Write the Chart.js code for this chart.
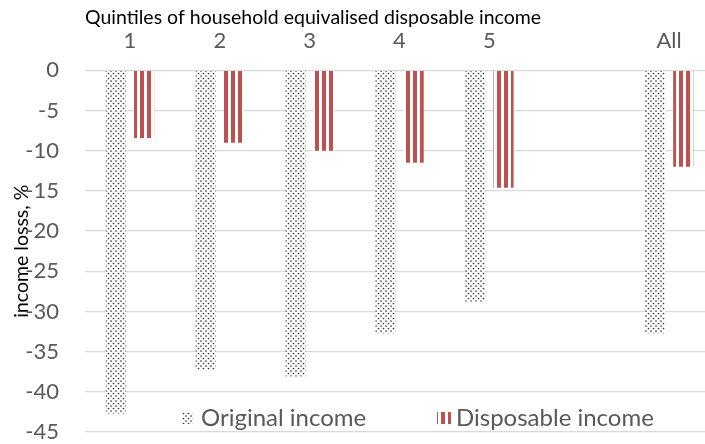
<!DOCTYPE html>
<html>
<head>
<meta charset="utf-8">
<script src="https://cdn.jsdelivr.net/npm/chart.js@4"></script>
<style>
  html, body { margin: 0; padding: 0; background: #fff; overflow: hidden; }
  #wrap { width: 705px; height: 444px; overflow: hidden; }
  canvas { display: block; }
</style>
</head>
<body>
<div id="wrap"><canvas id="grafico" width="714" height="444"></canvas></div>
<script>
// ---------------- DADOS ----------------
const categorias = ["1", "2", "3", "4", "5", "", "All"];
const rendaOriginal = [-42.7, -37.3, -38.1, -32.7, -28.8, null, -32.7];
const rendaDisponivel = [-8.4, -9.0, -10.0, -11.5, -14.6, null, -12.0];
const yMin = -45;
const yMax = 0;
const yPasso = 5;

const FONTE = "Lato, 'Open Sans', sans-serif";
const VERMELHO = "#c0504d";

// ---------------- PADROES ----------------
function padraoPontos(ctx) {
    const c = document.createElement("canvas");
    c.width = 5; c.height = 5;
    const g = c.getContext("2d");
    g.fillStyle = "#fff";
    g.fillRect(0, 0, 5, 5);
    g.fillStyle = "#3a3a3a";
    g.beginPath(); g.arc(1, 1, 0.85, 0, Math.PI * 2); g.fill();
    g.beginPath(); g.arc(3.5, 3.5, 0.85, 0, Math.PI * 2); g.fill();
    return ctx.createPattern(c, "repeat");
}

function padraoListras(ctx) {
    const c = document.createElement("canvas");
    c.width = 7; c.height = 4;
    const g = c.getContext("2d");
    g.fillStyle = "#fff";
    g.fillRect(0, 0, 7, 4);
    g.fillStyle = VERMELHO;
    g.fillRect(0, 0, 4, 4);
    return ctx.createPattern(c, "repeat");
}

const canvas = document.getElementById("grafico");
const ctx = canvas.getContext("2d");
const pontos = padraoPontos(ctx);
const listras = padraoListras(ctx);

// ---------------- LEGENDA (dentro da area) ----------------
const legendaInterna = {
    id: "legendaInterna",
    afterDraw(chart) {
        const c = chart.ctx;
        const y = 418;
        c.save();
        c.font = "24px " + FONTE;
        c.textBaseline = "middle";

        c.fillStyle = pontos;
        c.fillRect(182, y - 6, 11, 12);
        c.fillStyle = "#595959";
        c.fillText("Original income", 201, y);

        c.fillStyle = listras;
        c.fillRect(437, y - 6, 14, 12);
        c.fillStyle = "#595959";
        c.fillText("Disposable income", 456, y);
        c.restore();
    }
};

// ---------------- GRAFICO ----------------
new Chart(canvas, {
    type: "bar",
    data: {
        labels: categorias,
        datasets: [
            {
                label: "Original income",
                data: rendaOriginal,
                backgroundColor: pontos,
                borderWidth: 0,
                categoryPercentage: 0.63,
                barPercentage: 0.71
            },
            {
                label: "Disposable income",
                data: rendaDisponivel,
                backgroundColor: listras,
                borderWidth: 0,
                categoryPercentage: 0.63,
                barPercentage: 0.71
            }
        ]
    },
    options: {
        responsive: false,
        devicePixelRatio: 1,
        animation: false,
        layout: { padding: { top: 0, right: 0, bottom: 12, left: 0 } },
        plugins: {
            legend: { display: false },
            tooltip: { enabled: false },
            title: {
                display: true,
                text: "Quintiles of household equivalised disposable income",
                align: "start",
                fullSize: false,
                color: "#000",
                font: { family: FONTE, size: 19.5, weight: "normal" },
                padding: { top: 6, bottom: 0 }
            }
        },
        scales: {
            x: {
                position: "top",
                grid: { display: false, drawTicks: false },
                border: { display: false },
                ticks: {
                    color: "#595959",
                    font: { family: FONTE, size: 22 },
                    padding: 16
                },
                afterFit(scale) {
                    scale.height = 41;
                    scale.paddingLeft = 0;
                    scale.paddingRight = 0;
                }
            },
            y: {
                min: yMin,
                max: yMax,
                ticks: {
                    stepSize: yPasso,
                    color: "#595959",
                    font: { family: FONTE, size: 22 },
                    padding: 26
                },
                grid: { color: "#d9d9d9", drawTicks: false, lineWidth: 1.3 },
                border: { display: false },
                title: {
                    display: true,
                    text: "income losss, %",
                    color: "#000",
                    font: { family: FONTE, size: 19.5 },
                    padding: { top: 10, bottom: 0 }
                },
                afterFit(scale) {
                    scale.width = 85;
                    scale.paddingTop = 0;
                    scale.paddingBottom = 0;
                }
            }
        }
    },
    plugins: [legendaInterna]
});
</script>
</body>
</html>
